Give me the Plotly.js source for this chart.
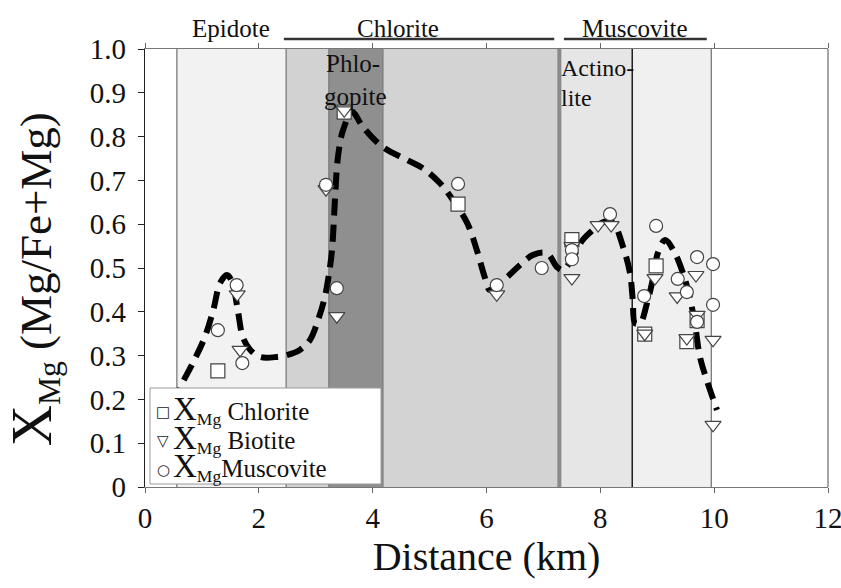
<!DOCTYPE html>
<html>
<head>
<meta charset="utf-8">
<script src="https://cdn.plot.ly/plotly-3.0.1.min.js"></script>
<style>body{margin:0;background:#fff}#chart{width:841px;height:588px}</style>
</head>
<body>
<div id="chart"></div>
<script>
// ---- data ----
const chloriteX = [1.28, 3.50, 5.50, 7.50, 8.78, 8.98, 9.52, 9.70];
const chloriteY = [0.265, 0.856, 0.646, 0.565, 0.349, 0.505, 0.332, 0.38];

const biotiteX = [1.67, 1.62, 3.18, 3.37, 3.50, 6.18, 7.50, 7.50, 7.96, 8.19, 8.78, 8.96, 9.35, 9.52, 9.68, 9.70, 9.98, 9.98];
const biotiteY = [0.313, 0.44, 0.68, 0.39, 0.86, 0.44, 0.477, 0.55, 0.598, 0.598, 0.35, 0.477, 0.435, 0.34, 0.484, 0.393, 0.336, 0.142];

const muscoviteX = [1.28, 1.61, 1.71, 3.18, 3.37, 5.50, 6.18, 6.97, 7.50, 7.50, 8.17, 8.77, 8.98, 9.36, 9.52, 9.70, 9.70, 9.98, 9.98];
const muscoviteY = [0.358, 0.461, 0.283, 0.69, 0.454, 0.692, 0.461, 0.50, 0.541, 0.52, 0.623, 0.436, 0.596, 0.475, 0.445, 0.525, 0.377, 0.509, 0.416];

const trendX = [0.50, 0.62, 0.84, 1.05, 1.20, 1.32, 1.44, 1.53, 1.63, 1.72, 1.85, 2.02, 2.32, 2.49, 2.72, 2.90, 3.04, 3.16, 3.25, 3.29, 3.34, 3.39, 3.48, 3.64, 3.83, 4.18, 4.60, 4.88, 5.18, 5.41, 5.66, 5.83, 5.97, 6.06, 6.36, 6.59, 6.82, 7.06, 7.24, 7.34, 7.52, 7.69, 7.87, 8.05, 8.22, 8.40, 8.52, 8.57, 8.61, 8.70, 8.82, 8.92, 9.01, 9.14, 9.31, 9.45, 9.57, 9.66, 9.75, 9.87, 10.05];
const trendY = [0.19, 0.228, 0.283, 0.342, 0.404, 0.466, 0.484, 0.468, 0.404, 0.342, 0.313, 0.297, 0.297, 0.301, 0.313, 0.336, 0.381, 0.434, 0.502, 0.548, 0.662, 0.753, 0.815, 0.856, 0.822, 0.776, 0.747, 0.728, 0.694, 0.655, 0.603, 0.541, 0.479, 0.450, 0.479, 0.507, 0.530, 0.534, 0.502, 0.495, 0.525, 0.564, 0.587, 0.605, 0.603, 0.548, 0.489, 0.427, 0.374, 0.374, 0.420, 0.473, 0.534, 0.564, 0.534, 0.489, 0.434, 0.374, 0.297, 0.244, 0.176];

// zone bands (km)
const bandStart = [0.56, 2.48, 3.23, 4.18, 7.28, 8.56];
const bandEnd   = [2.48, 3.23, 4.18, 7.28, 8.56, 9.95];
const bandFill  = ['#f2f2f2', '#d2d2d2', '#8f8f8f', '#d3d3d3', '#e6e6e6', '#f0f0f0'];

const zoneLabels = ['Epidote', 'Chlorite', 'Muscovite'];
const zoneLabelX = [1.51, 4.44, 8.61];
const zoneLineStart = [null, 2.44, 7.36];
const zoneLineEnd = [null, 7.19, 9.87];

const xTicks = [0, 2, 4, 6, 8, 10, 12];
const yTickVals = [0, 0.1, 0.2, 0.3, 0.4, 0.5, 0.6, 0.7, 0.8, 0.9, 1.0];
const yTickText = ['0', '0.1', '0.2', '0.3', '0.4', '0.5', '0.6', '0.7', '0.8', '0.9', '1.0'];

const seriesNames = ['Chlorite', 'Biotite', 'Muscovite'];
const legendGlyphs = ['\u25A1', '\u25BD', '\u25CB'];

// ---- build ----
const serif = 'Liberation Serif, Times New Roman, serif';
const mk = (sym, size) => ({symbol: sym, size: size, color: '#ffffff', line: {color: '#444444', width: 1.2}});

const traces = [
  {x: trendX, y: trendY, mode: 'lines', type: 'scatter', showlegend: false, hoverinfo: 'skip',
   line: {color: '#000000', width: 6, dash: '17px,9px', shape: 'spline', smoothing: 1}},
  {x: chloriteX, y: chloriteY, mode: 'markers', type: 'scatter', name: seriesNames[0], showlegend: false, marker: mk('square', 14)},
  {x: biotiteX, y: biotiteY, mode: 'markers', type: 'scatter', name: seriesNames[1], showlegend: false, marker: mk('triangle-down', 14)},
  {x: muscoviteX, y: muscoviteY, mode: 'markers', type: 'scatter', name: seriesNames[2], showlegend: false, marker: mk('circle', 13)}
];

const plotLeftPx = 145, plotRightPx = 828, plotTopPx = 49, plotBottomPx = 487;
const pyToPaper = py => (plotBottomPx - py) / (plotBottomPx - plotTopPx);
const pxToPaper = px => (px - plotLeftPx) / (plotRightPx - plotLeftPx);

const shapes = [];
for (let i = 0; i < bandStart.length; i++) {
  shapes.push({type: 'rect', xref: 'x', yref: 'paper', x0: bandStart[i], x1: bandEnd[i], y0: 0, y1: 1,
    fillcolor: bandFill[i], line: {width: 0}, layer: 'below'});
}
const edges = [0.56, 2.48, 3.23, 4.18, 9.95];
edges.forEach(e => shapes.push({type: 'line', xref: 'x', yref: 'paper', x0: e, x1: e, y0: 0, y1: 1,
  line: {color: '#7a7a7a', width: 1.3}, layer: 'below'}));
shapes.push({type: 'line', xref: 'x', yref: 'paper', x0: 7.28, x1: 7.28, y0: 0, y1: 1, line: {color: '#8a8a8a', width: 4}, layer: 'below'});
shapes.push({type: 'line', xref: 'x', yref: 'paper', x0: 8.56, x1: 8.56, y0: 0, y1: 1, line: {color: '#000000', width: 1.3}, layer: 'below'});
// right frame
shapes.push({type: 'line', xref: 'paper', yref: 'paper', x0: 1, x1: 1, y0: 0, y1: 1, line: {color: '#888888', width: 1.5}});
// zone lines above plot
for (let i = 0; i < zoneLabels.length; i++) {
  if (zoneLineStart[i] !== null) {
    shapes.push({type: 'line', xref: 'x', yref: 'paper', x0: zoneLineStart[i], x1: zoneLineEnd[i], y0: 1.023, y1: 1.023,
      line: {color: '#333333', width: 2.5}});
  }
}
// legend box
shapes.push({type: 'rect', xref: 'paper', yref: 'paper', x0: pxToPaper(150), x1: pxToPaper(381), y0: pyToPaper(484), y1: pyToPaper(388),
  fillcolor: '#ffffff', line: {color: '#9a9a9a', width: 1}, layer: 'above'});

const annotations = zoneLabels.map((t, i) => ({
  text: t, x: zoneLabelX[i], xref: 'x', y: pyToPaper(29), yref: 'paper', yanchor: 'middle', showarrow: false,
  font: {family: serif, size: 25, color: '#111'}
}));
annotations.push({text: 'Phlo-', x: 3.66, xref: 'x', y: pyToPaper(63), yref: 'paper', yanchor: 'middle', showarrow: false, font: {family: serif, size: 25, color: '#111'}});
annotations.push({text: 'gopite', x: 3.70, xref: 'x', y: pyToPaper(96), yref: 'paper', yanchor: 'middle', showarrow: false, font: {family: serif, size: 25, color: '#111'}});
annotations.push({text: 'Actino-', x: 7.27, xref: 'x', xanchor: 'left', y: pyToPaper(68), yref: 'paper', yanchor: 'middle', showarrow: false, font: {family: serif, size: 24, color: '#111'}});
annotations.push({text: 'lite', x: 7.27, xref: 'x', xanchor: 'left', y: pyToPaper(98), yref: 'paper', yanchor: 'middle', showarrow: false, font: {family: serif, size: 24, color: '#111'}});

// legend rows (built from series names)
const rowY = [410, 439, 467];
const glyphY = [412, 441, 470];
seriesNames.forEach((n, i) => {
  annotations.push({text: legendGlyphs[i], x: pxToPaper(163), xref: 'paper', xanchor: 'center', y: pyToPaper(glyphY[i]), yref: 'paper', yanchor: 'middle',
    showarrow: false, font: {family: 'DejaVu Sans', size: 15, color: '#222'}});
  const sep = (i === 2) ? '' : ' ';
  annotations.push({text: "<span style='font-size:33px'>X</span><sub>Mg</sub>" + sep + n, x: pxToPaper(171), xref: 'paper', xanchor: 'left',
    y: pyToPaper(rowY[i]), yref: 'paper', yanchor: 'middle', showarrow: false, font: {family: serif, size: 25, color: '#111'}});
});

const layout = {
  width: 841, height: 588,
  margin: {l: 145, r: 13, t: 49, b: 101},
  paper_bgcolor: '#ffffff', plot_bgcolor: '#ffffff',
  font: {family: serif, color: '#111'},
  xaxis: {range: [0, 12], tickvals: xTicks, ticks: 'outside', ticklen: 5, tickcolor: '#666', ticklabeloverflow: 'allow',
    showline: true, linecolor: '#777', linewidth: 1.4, mirror: 'ticks', showgrid: false, zeroline: false,
    tickfont: {family: serif, size: 29, color: '#111'},
    title: {text: 'Distance (km)', font: {family: serif, size: 40, color: '#111'}, standoff: 4}},
  yaxis: {range: [0, 1], tickvals: yTickVals, ticktext: yTickText, ticks: 'outside', ticklen: 6, tickcolor: '#222',
    ticklabelstandoff: 6,
    showline: true, linecolor: '#222', linewidth: 1.2, showgrid: false, zeroline: false,
    tickfont: {family: serif, size: 29, color: '#111'},
    title: {text: "<span style='font-size:57px'>X</span><sub>Mg</sub> (Mg/Fe+Mg)&#160;&#160;", font: {family: serif, size: 45, color: '#111'}, standoff: 24}},
  shapes: shapes,
  annotations: annotations,
  showlegend: false
};

Plotly.newPlot('chart', traces, layout, {displayModeBar: false, staticPlot: true});
</script>
</body>
</html>
